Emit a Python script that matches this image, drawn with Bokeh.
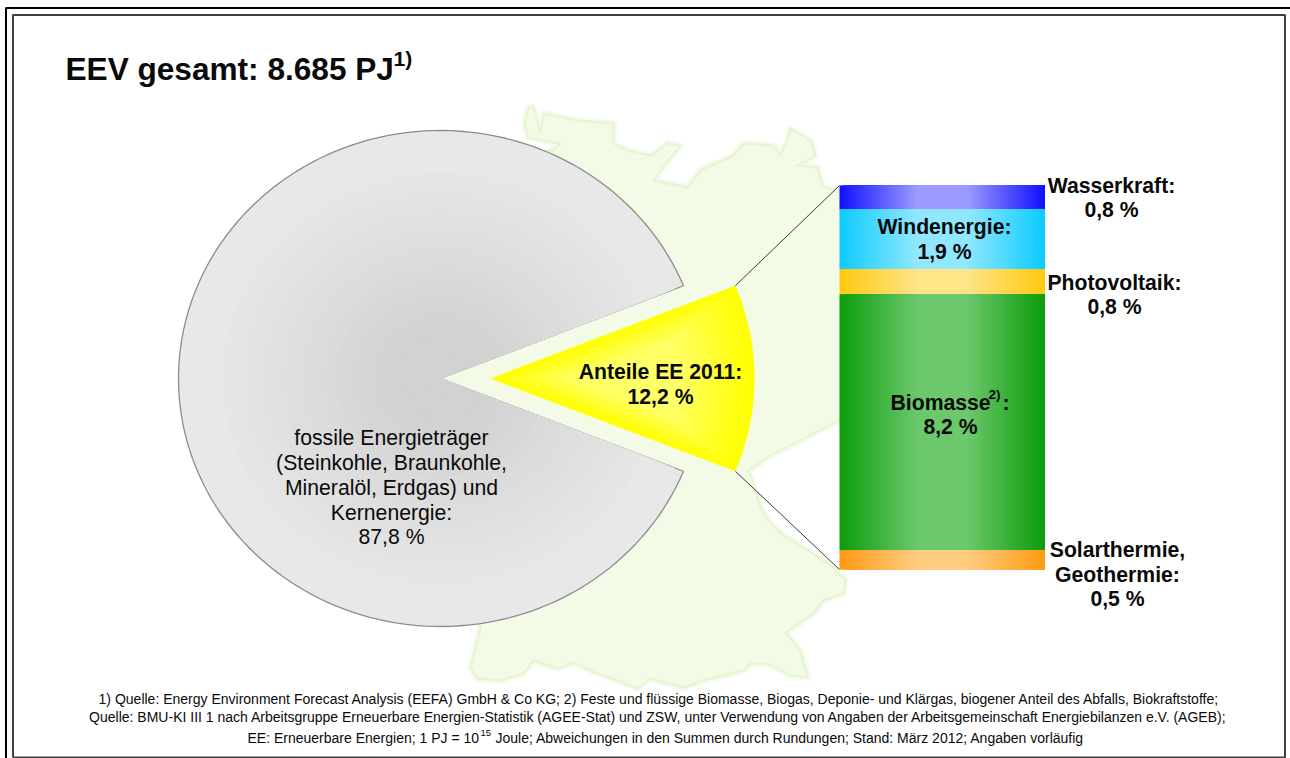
import numpy as np
from bokeh.plotting import figure
from bokeh.models import Range1d
from bokeh.core.properties import value
from bokeh.embed import file_html
from bokeh.resources import INLINE

W, H = 1290, 758

# values
pie_labels = ["fossile Energieträger", "Anteile EE 2011"]
pie_shares = [87.8, 12.2]
segment_names = ["Wasserkraft", "Windenergie", "Photovoltaik", "Biomasse", "Solarthermie, Geothermie"]
segment_printed = ["0,8 %", "1,9 %", "0,8 %", "8,2 %", "0,5 %"]
# heights as read from the drawn stack (top to bottom)
segment_heights = [0.76, 1.90, 0.79, 8.13, 0.60]
segment_edge = ["#1010ff", "#0ccbff", "#ffc910", "#0c9c0c", "#ff9a14"]
segment_mid = ["#9c9cff", "#90e8ff", "#ffe488", "#6cc86c", "#ffcc80"]

# background map outline
map_x = [528, 524, 528, 560, 552, 480, 440, 440, 462, 480, 470, 477, 500, 523, 533, 545, 557, 573, 595, 617, 637, 650,
         683, 703, 743, 750, 767, 790, 807, 800, 785, 813, 823, 843, 845, 833, 803, 783, 770, 760, 748,
         770, 790, 815, 838, 846, 846, 838, 822, 820, 817, 797, 815, 810, 790, 787, 780, 773, 743, 733, 700,
         687, 653, 670, 680, 667, 650, 627, 613, 613, 577, 543, 540, 533]
map_y = [107, 122, 137, 143, 150, 160, 250, 480, 560, 627, 667, 678, 680, 673, 660, 664, 668, 662, 672, 680, 688, 678,
         687, 680, 670, 663, 663, 675, 677, 650, 632, 613, 600, 593, 580, 567, 547, 535, 523, 507, 470,
         455, 445, 432, 420, 412, 200, 192, 185, 178, 167, 165, 155, 140, 128, 140, 155, 145, 143, 155, 170,
         187, 180, 157, 145, 143, 155, 150, 143, 123, 120, 113, 133, 107]

p = figure(width=W, height=H, x_range=Range1d(0, W), y_range=Range1d(H, 0),
           output_backend="svg", toolbar_location=None, min_border=0,
           outline_line_color=None, background_fill_color="white", border_fill_color="white")
p.axis.visible = False
p.grid.visible = False
p.styles = {"position": "absolute", "left": "0px", "top": "0px"}

SANS = value("Liberation Sans")


def txt(x, y, s, size, bold=False, align="center", color="#0a0a0a"):
    p.text([x], [y], text=[s], text_font=SANS, text_font_size=f"{size}px",
           text_font_style="bold" if bold else "normal", text_align=align,
           text_baseline="middle", text_color=color)


# frame
p.line([5.5, 5.5], [7.5, 758], line_color="#000000", line_width=2)
p.line([5, 1290], [7.5, 7.5], line_color="#000000", line_width=2)
p.line([12.5, 12.5, 1284.5, 1284.5, 12.5], [757, 14.5, 14.5, 757, 757], line_color="#404040", line_width=2)

# map
p.patch(map_x, map_y, fill_color="#f3fbe7", line_color="#f6fbee", line_width=7, line_join="round")
p.patch(map_x, map_y, fill_color="#f3fbe7", line_color="#e6f5d4", line_width=2.5, line_join="round")


def wedge(cx, cy, rx, ry, start_deg, end_deg, n=160):
    a = np.radians(np.linspace(start_deg, end_deg, n))
    return (np.r_[cx, cx + rx * np.cos(a), cx], np.r_[cy, cy - ry * np.sin(a), cy])


def mix(c1, c2, t):
    a = np.array([int(c1[i:i + 2], 16) for i in (1, 3, 5)])
    b = np.array([int(c2[i:i + 2], 16) for i in (1, 3, 5)])
    v = np.round(a + (b - a) * t).astype(int)
    return "#%02x%02x%02x" % tuple(v)


half = pie_shares[1] / 100 * 360 / 2
AX, AY = 440, 378
YX, YY = 490, 378
RX, RY = 262, 248

# connector lines, from the yellow slice's corners to the stack's corners
bar_left, bar_right = 839, 1044
k = 384 / sum(segment_heights)
bar_bottom_px = 569
p.extra_y_ranges["pct"] = Range1d(-(H - bar_bottom_px) / k, bar_bottom_px / k)
total = sum(segment_heights)
corner_x = YX + 264 * np.cos(np.radians(half))
corner_dy = RY * np.sin(np.radians(half))
p.line([corner_x, bar_left], [YY - corner_dy, bar_bottom_px - total * k], line_color="#3c3c3c", line_width=1)
p.line([corner_x, bar_left], [YY + corner_dy, bar_bottom_px], line_color="#3c3c3c", line_width=1)

# grey slice: concentric sectors
steps = 30
xs, ys, cols = [], [], []
for i in range(steps):
    s = 1 - i / steps
    x, y = wedge(AX, AY, RX * s, RY * s, half, 360 - half)
    xs.append(x.tolist()); ys.append(y.tolist())
    t = max(0.0, min(1.0, (0.88 - s) / 0.68))
    cols.append(mix("#e8e8e8", "#d2d2d2", t))
p.patches(xs[:1], ys[:1], fill_color=cols[:1], line_color="#8c8c8c", line_width=1.3)
p.patches(xs[1:], ys[1:], fill_color=cols[1:], line_color=None)

# yellow slice: shape shrunk step by step toward its middle
x0, y0 = wedge(YX, YY, 264, RY, -half, half)
mx = YX + 0.52 * 264
xs, ys, cols = [], [], []
for i in range(24):
    s = 1 - i / 24
    xs.append((mx + (x0 - mx) * s).tolist())
    ys.append((YY + (y0 - YY) * s).tolist())
    cols.append(mix("#ffff00", "#ffff66", min(1.0, i / 14)))
p.patches(xs, ys, fill_color=cols, line_color=None)

# stack with horizontal gradient strips; each strip runs on to the right edge so no seams show
top = total
for h, edge, mid in zip(segment_heights, segment_edge, segment_mid):
    lefts = np.arange(bar_left, bar_right, 2)
    c = (lefts + 1 - bar_left) / (bar_right - bar_left)
    cols = [mix(edge, mid, min(1.0, min(v, 1 - v) / 0.38)) for v in c]
    p.quad(left=lefts, right=bar_right, top=top, bottom=top - h, fill_color=cols, line_color=None,
           y_range_name="pct")
    top -= h

# title
txt(65, 68, "EEV gesamt: 8.685 PJ", 31.6, True, "left")
txt(393, 58, "1)", 21, True, "left")

# bold labels
BS = 21.2
txt(1111, 185, segment_names[0] + ":", BS, True)
txt(1111, 209, segment_printed[0], BS, True)
txt(944, 226, segment_names[1] + ":", BS, True)
txt(944, 251, segment_printed[1], BS, True)
txt(1114, 282, segment_names[2] + ":", BS, True)
txt(1114, 306, segment_printed[2], BS, True)
txt(890, 402, segment_names[3], BS, True, "left")
txt(988, 394, "2)", 13.5, True, "left")
txt(1002, 402, ":", BS, True, "left")
txt(950, 426, segment_printed[3], BS, True)
txt(1117, 549, "Solarthermie,", BS, True)
txt(1117, 574, "Geothermie:", BS, True)
txt(1117, 598, segment_printed[4], BS, True)
txt(660, 371, pie_labels[1] + ":", BS, True)
txt(660, 396, "12,2 %", BS, True)

# grey slice label
for y, s in zip([437, 462, 487, 512, 536],
                [pie_labels[0], "(Steinkohle, Braunkohle,", "Mineralöl, Erdgas) und", "Kernenergie:", "87,8 %"]):
    txt(391, y, s, 21.2)

# footnotes
FS = 14
txt(659, 698, "1) Quelle: Energy Environment Forecast Analysis (EEFA) GmbH & Co KG; 2) Feste und flüssige Biomasse, Biogas, Deponie- und Klärgas, biogener Anteil des Abfalls, Biokraftstoffe;", FS)
txt(658, 716, "Quelle: BMU-KI III 1 nach Arbeitsgruppe Erneuerbare Energien-Statistik (AGEE-Stat) und ZSW, unter Verwendung von Angaben der Arbeitsgemeinschaft Energiebilanzen e.V. (AGEB);", FS)
txt(247, 737, "EE: Erneuerbare Energien; 1 PJ = 10", FS, False, "left")
txt(480, 732, "15", 9.5, False, "left")
txt(495, 737, "Joule; Abweichungen in den Summen durch Rundungen; Stand: März 2012; Angaben vorläufig", FS, False, "left")

open("out.html", "w").write(file_html(p, INLINE))
